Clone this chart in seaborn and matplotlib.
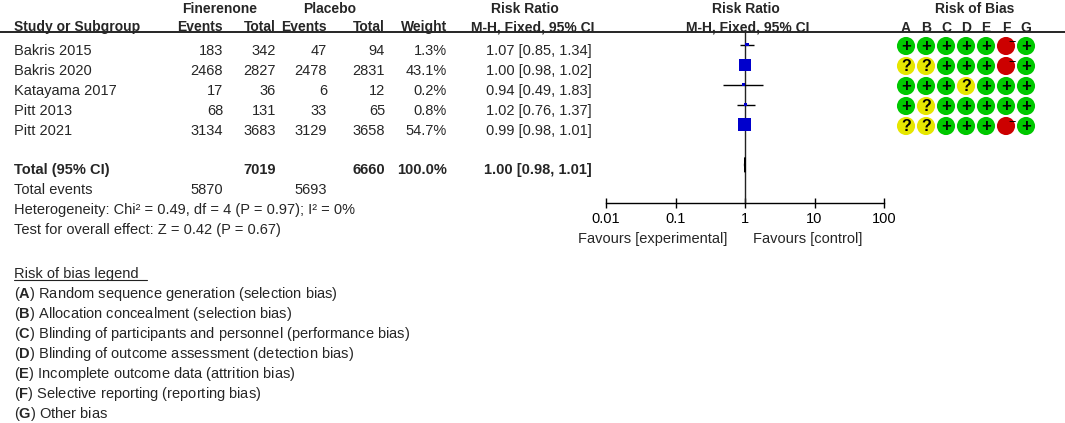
import matplotlib
matplotlib.use("Agg")
import matplotlib.pyplot as plt
import seaborn as sns
import pandas as pd
import numpy as np

# study level data
studies = ["Bakris 2015", "Bakris 2020", "Katayama 2017", "Pitt 2013", "Pitt 2021"]
fin_events = [183, 2468, 17, 68, 3134]
fin_total = [342, 2827, 36, 131, 3683]
pla_events = [47, 2478, 6, 33, 3129]
pla_total = [94, 2831, 12, 65, 3658]
weight = [1.3, 43.1, 0.2, 0.8, 54.7]
rr = [1.07, 1.00, 0.94, 1.02, 0.99]
rr_lo = [0.85, 0.98, 0.49, 0.76, 0.98]
rr_hi = [1.34, 1.02, 1.83, 1.37, 1.01]

# pooled result
total_fin = 7019
total_pla = 6660
total_weight = 100.0
total_events_fin = 5870
total_events_pla = 5693
total_rr, total_lo, total_hi = 1.00, 0.98, 1.01
het_text = "Heterogeneity: Chi² = 0.49, df = 4 (P = 0.97); I² = 0%"
effect_text = "Test for overall effect: Z = 0.42 (P = 0.67)"

# risk of bias, one string per study, domains A..G
bias_domains = ["A", "B", "C", "D", "E", "F", "G"]
bias_marks = ["+++++-+", "??+++-+", "+++?+++", "+?+++++", "??+++-+"]
bias_names = [
    "Random sequence generation (selection bias)",
    "Allocation concealment (selection bias)",
    "Blinding of participants and personnel (performance bias)",
    "Blinding of outcome assessment (detection bias)",
    "Incomplete outcome data (attrition bias)",
    "Selective reporting (reporting bias)",
    "Other bias",
]
axis_ticks = [0.01, 0.1, 1, 10, 100]
axis_labels = ["0.01", "0.1", "1", "10", "100"]

sns.set_theme(style="white")
plt.rcParams["font.family"] = ["Liberation Sans", "DejaVu Sans"]
plt.rcParams["font.size"] = 10.5
plt.rcParams["mathtext.fontset"] = "custom"
plt.rcParams["mathtext.rm"] = "Liberation Sans"
plt.rcParams["mathtext.bf"] = "Liberation Sans:bold"

W, H = 1065, 423
fig = plt.figure(figsize=(W / 100, H / 100), dpi=100)
fig.patch.set_facecolor("white")


def px_axes(x0, y0, x1, y1):
    return fig.add_axes([x0 / W, 1 - y1 / H, (x1 - x0) / W, (y1 - y0) / H])


# text table
ax = px_axes(0, 0, W, H)
ax.set_xlim(0, W)
ax.set_ylim(H, 0)
ax.axis("off")

hdr = dict(fontweight="bold", fontsize=10, va="baseline")
ax.text(220, 13, "Finerenone", ha="center", **hdr)
ax.text(330, 13, "Placebo", ha="center", **hdr)
ax.text(525, 13, "Risk Ratio", ha="center", **hdr)
ax.text(746, 13, "Risk Ratio", ha="center", **hdr)
ax.text(975, 13, "Risk of Bias", ha="center", **hdr)

ax.text(14, 31, "Study or Subgroup", ha="left", **hdr)
col_x = [223, 276, 327, 385, 447]
for x, lab in zip(col_x, ["Events", "Total", "Events", "Total", "Weight"]):
    ax.text(x, 31, lab, ha="right", **hdr)
ax.text(533, 31, "M-H, Fixed, 95% CI", ha="center", **hdr)
ax.text(748, 31, "M-H, Fixed, 95% CI", ha="center", **hdr)
ax.plot([0, W], [32.5, 32.5], color="black", lw=1.2)

for i, name in enumerate(studies):
    y = 55 + 20 * i
    ax.text(14, y, name, ha="left", va="baseline")
    vals = [fin_events[i], fin_total[i], pla_events[i], pla_total[i]]
    for x, v in zip(col_x[:4], vals):
        ax.text(x, y, str(v), ha="right", va="baseline")
    ax.text(col_x[4], y, f"{weight[i]:.1f}%", ha="right", va="baseline")
    ax.text(592, y, f"{rr[i]:.2f} [{rr_lo[i]:.2f}, {rr_hi[i]:.2f}]",
            ha="right", va="baseline")

bold = dict(fontweight="bold")
ax.text(14, 174, "Total (95% CI)", ha="left", va="baseline", **bold)
ax.text(col_x[1], 174, str(total_fin), ha="right", va="baseline", **bold)
ax.text(col_x[3], 174, str(total_pla), ha="right", va="baseline", **bold)
ax.text(col_x[4], 174, f"{total_weight:.1f}%", ha="right", va="baseline", **bold)
ax.text(592, 174, f"{total_rr:.2f} [{total_lo:.2f}, {total_hi:.2f}]",
        ha="right", va="baseline", **bold)
ax.text(14, 194, "Total events", ha="left", va="baseline")
ax.text(col_x[0], 194, str(total_events_fin), ha="right", va="baseline")
ax.text(col_x[2], 194, str(total_events_pla), ha="right", va="baseline")
ax.text(14, 214, het_text, ha="left", va="baseline")
ax.text(14, 234, effect_text, ha="left", va="baseline")

ax.text(727, 243, "Favours [experimental]", ha="right", va="baseline")
ax.text(753, 243, "Favours [control]", ha="left", va="baseline")

# legend for risk of bias
ax.text(14, 278, "Risk of bias legend ", ha="left", va="baseline")
ax.plot([14, 147], [280, 280], color="#222222", lw=0.8)
for k, (letter, desc) in enumerate(zip(bias_domains, bias_names)):
    ax.text(14, 298 + 20 * k, rf"($\mathbf{{{letter}}}$) {desc}",
            ha="left", va="baseline")

# forest plot
ax_f = px_axes(606, 32.5, 884, 203)
ax_f.patch.set_visible(False)
ax_f.set_xscale("log")
ax_f.set_xlim(0.01, 100)
ax_f.set_ylim(7.9, -0.6)
rows = np.arange(len(studies))
ax_f.axvline(1, color="#222222", lw=1, zorder=1)
ax_f.hlines(rows, rr_lo, rr_hi, color="black", lw=1, zorder=2)
forest_df = pd.DataFrame({"rr": rr, "row": rows, "weight": weight})
sns.scatterplot(data=forest_df, x="rr", y="row", size="weight",
                sizes=(4, 92), size_norm=(0, max(weight)), marker="s",
                color="#0000cc", edgecolor="none", legend=False,
                zorder=3, ax=ax_f)
d = 0.37
ax_f.fill([total_lo, total_rr, total_hi, total_rr], [6, 6 - d, 6, 6 + d],
          color="black", lw=0.8, zorder=3)
ax_f.set_xticks(axis_ticks)
ax_f.set_xticklabels(axis_labels)
ax_f.xaxis.set_minor_locator(matplotlib.ticker.NullLocator())
ax_f.set_yticks([])
ax_f.set_xlabel("")
ax_f.set_ylabel("")
for s in ["left", "top", "right"]:
    ax_f.spines[s].set_visible(False)
ax_f.spines["bottom"].set_color("black")
ax_f.spines["bottom"].set_linewidth(1)
ax_f.tick_params(axis="x", direction="inout", length=6.5, width=1,
                 pad=3.5, labelsize=10.5, colors="black", bottom=True)

# risk of bias grid
ax_b = px_axes(896, 32.5, 1036, 145)
ax_b.patch.set_visible(False)
ax_b.set_xlim(-0.5, 6.5)
ax_b.set_ylim(4.95, -0.675)
bias_rows = []
for i, marks in enumerate(bias_marks):
    for j, m in enumerate(marks):
        bias_rows.append({"row": i, "col": j, "mark": m})
bias_df = pd.DataFrame(bias_rows)
palette = {"+": "#00c800", "?": "#e6e600", "-": "#cc0000"}
sns.scatterplot(data=bias_df, x="col", y="row", hue="mark", palette=palette,
                s=170, edgecolor="none", legend=False, ax=ax_b)
for r in bias_df.itertuples():
    if r.mark == "+":
        ax_b.text(r.col, r.row, "+", ha="center", va="center",
                  fontsize=12, fontweight="bold", color="black")
    elif r.mark == "?":
        ax_b.text(r.col, r.row + 0.03, "?", ha="center", va="center",
                  fontsize=11.5, fontweight="bold", color="black")
    else:
        ax_b.text(r.col + 0.3, r.row - 0.13, "−", ha="center", va="center",
                  fontsize=9, color="black")
for j, letter in enumerate(bias_domains):
    ax_b.text(j, -0.675, letter, ha="center", va="baseline", fontweight="bold",
              fontsize=10, clip_on=False)
ax_b.axis("off")

fig.savefig("out.png", dpi=100, facecolor="white")
